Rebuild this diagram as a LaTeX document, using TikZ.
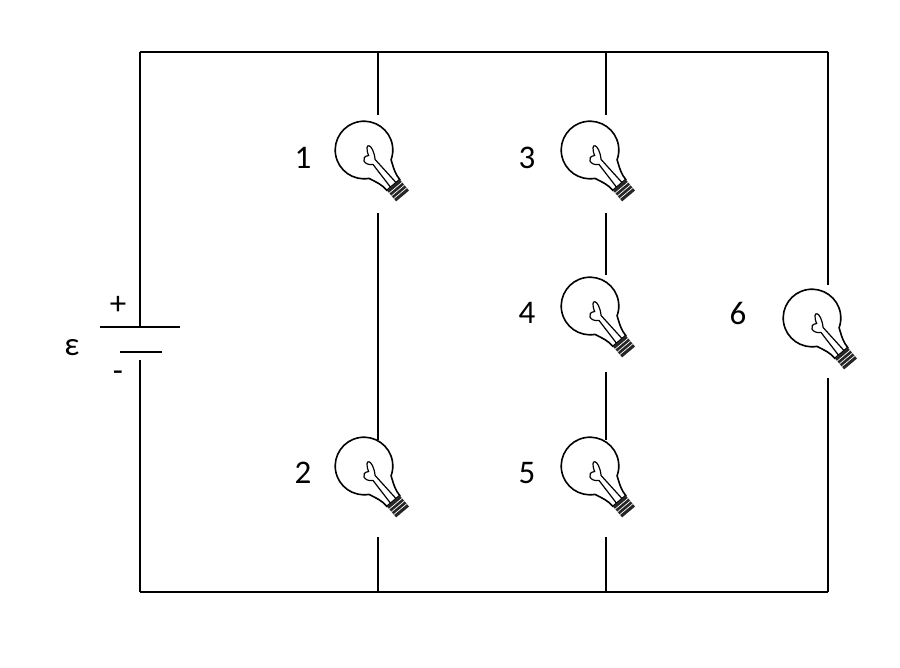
\documentclass[tikz,border=0pt]{standalone}
\usepackage{fontspec}
\setmainfont{Carlito}
\usetikzlibrary{positioning}
\tikzset{
    wire/.style = {line width=2.4pt},
    num/.style = {font=\fontsize{33}{33}\selectfont},
    bulb/.pic = {
        % glass and neck, base pointing along +y
        \draw[line width=1.6pt] (-12,20.8) arc (120:420:24)
            .. controls (9,28) and (7,32) .. (7,38) -- (-7,38)
            .. controls (-7,32) and (-9,28) .. (-12,20.8);
        % filament
        \draw[line width=1.2pt] (-3,38) -- (-2,14) .. controls (-9,10) and (-6,2) .. (0,6)
            .. controls (4,-6) and (10,0) .. (2,12) -- (3,38);
        % screw base
        \fill[black!85] (-7,38) rectangle (7,50);
        \foreach \t in {41,44,47} \draw[white,line width=0.7pt] (-7,\t) -- (7,\t);
    }
}
\begin{document}
\begin{tikzpicture}[x=1pt,y=-1pt]
    \useasboundingbox (0,0) rectangle (900,668);
    % corners and branch points
    \coordinate (TL) at (140,52);
    \coordinate (TR) at (828,52);
    \coordinate (BL) at (140,592);
    \coordinate (BR) at (828,592);
    \coordinate (T1) at (378,52);
    \coordinate (T2) at (606,52);
    \coordinate (B1) at (378,592);
    \coordinate (B2) at (606,592);
    \draw[wire] (BL) -- (BR);
    \draw[wire] (TL) -- (TR);
    % battery
    \coordinate (Bp) at (140,327);
    \coordinate (Bm) at (140,360);
    \draw[wire] (TL) -- (Bp);
    \draw[wire] (Bm) -- (BL);
    \draw[wire] (100,327) -- (180,327);
    \draw[wire] (120,352) -- (162,352);
    \node[num] (plus) at (118,305) {+};
    \node[num] (minus) at (118,376) {-};
    \node[num] (emf) at (72,348) {ε};
    % left branch
    \draw[wire] (T1) -- (378,115);
    \draw[wire] (378,213) -- (378,440);
    \draw[wire] (378,537) -- (B1);
    % middle branch
    \draw[wire] (T2) -- (606,115);
    \draw[wire] (606,213) -- (606,275);
    \draw[wire] (606,372) -- (606,440);
    \draw[wire] (606,537) -- (B2);
    % right branch
    \draw[wire] (TR) -- (828,285);
    \draw[wire] (828,378) -- (BR);
    % bulbs
    \pic[rotate=40,scale=1.2] at (364,150) {bulb};
    \pic[rotate=40,scale=1.2] at (364,466) {bulb};
    \pic[rotate=40,scale=1.2] at (590,150) {bulb};
    \pic[rotate=40,scale=1.2] at (590,306) {bulb};
    \pic[rotate=40,scale=1.2] at (590,466) {bulb};
    \pic[rotate=40,scale=1.2] at (812,318) {bulb};
    \node[num] (n1) at (303,158) {1};
    \node[num] (n2) at (303,473) {2};
    \node[num] (n3) at (527,158) {3};
    \node[num] (n4) at (527,313) {4};
    \node[num] (n5) at (527,473) {5};
    \node[num] (n6) at (738,313) {6};
\end{tikzpicture}
\end{document}
